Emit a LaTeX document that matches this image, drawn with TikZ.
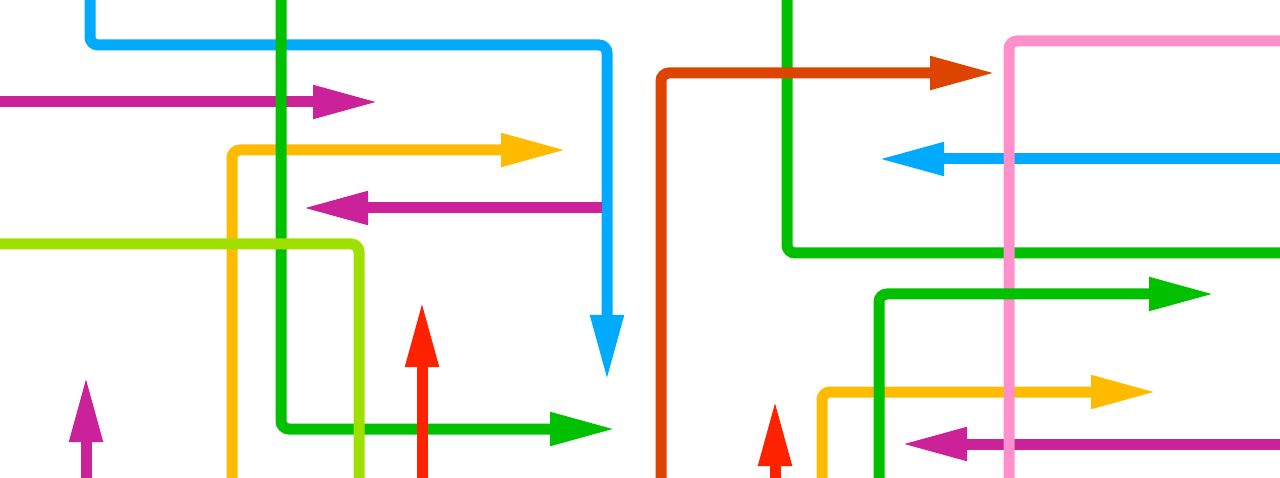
\documentclass[tikz,border=0pt]{standalone}
\usetikzlibrary{arrows.meta}
\definecolor{cblue}{HTML}{00AAFF}
\definecolor{cgreen}{HTML}{00C000}
\definecolor{cmag}{HTML}{CC2299}
\definecolor{cyel}{HTML}{FFBB00}
\definecolor{clime}{HTML}{A0E000}
\definecolor{cred}{HTML}{FF2200}
\definecolor{corange}{HTML}{DD4400}
\definecolor{cpink}{HTML}{FF90CC}
\tikzset{
  wire/.style={line width=11pt, rounded corners=8pt, line cap=butt},
  arr/.style={wire, -{Triangle[length=66pt,width=31pt]}}
}
\begin{document}
\begin{tikzpicture}[x=1pt,y=-1pt]
\useasboundingbox (0,0) rectangle (1280,478);
\fill[white] (0,0) rectangle (1280,478);
\clip (0,0) rectangle (1280,478);
% left half
\draw[arr, cblue] (90,-10) -- (90,45) -- (607,45) -- (607,381);
\draw[arr, cmag] (-10,102) -- (379,102);
\draw[arr, cyel] (232,490) -- (232,150) -- (567,150);
\draw[arr, cgreen] (281,-10) -- (281,429) -- (616,429);
\draw[wire, clime] (-10,244) -- (359,244) -- (359,490);
\draw[arr, cmag] (602,208) -- (302,208);
\draw[arr, cred] (422,490) -- (422,301);
\draw[arr, cmag] (86,490) -- (86,376);
% right half
\draw[wire, cgreen] (787,-10) -- (787,253) -- (1290,253);
\draw[arr, corange] (661,490) -- (661,73) -- (996,73);
\draw[arr, cblue] (1290,159) -- (878,159);
\draw[arr, cyel] (822,490) -- (822,392) -- (1157,392);
\draw[arr, cmag] (1290,444) -- (901,444);
\draw[arr, cred] (775,490) -- (775,400);
\draw[wire, cpink] (1009,490) -- (1009,41) -- (1290,41);
\draw[arr, cgreen] (879,490) -- (879,294) -- (1215,294);
\end{tikzpicture}
\end{document}
